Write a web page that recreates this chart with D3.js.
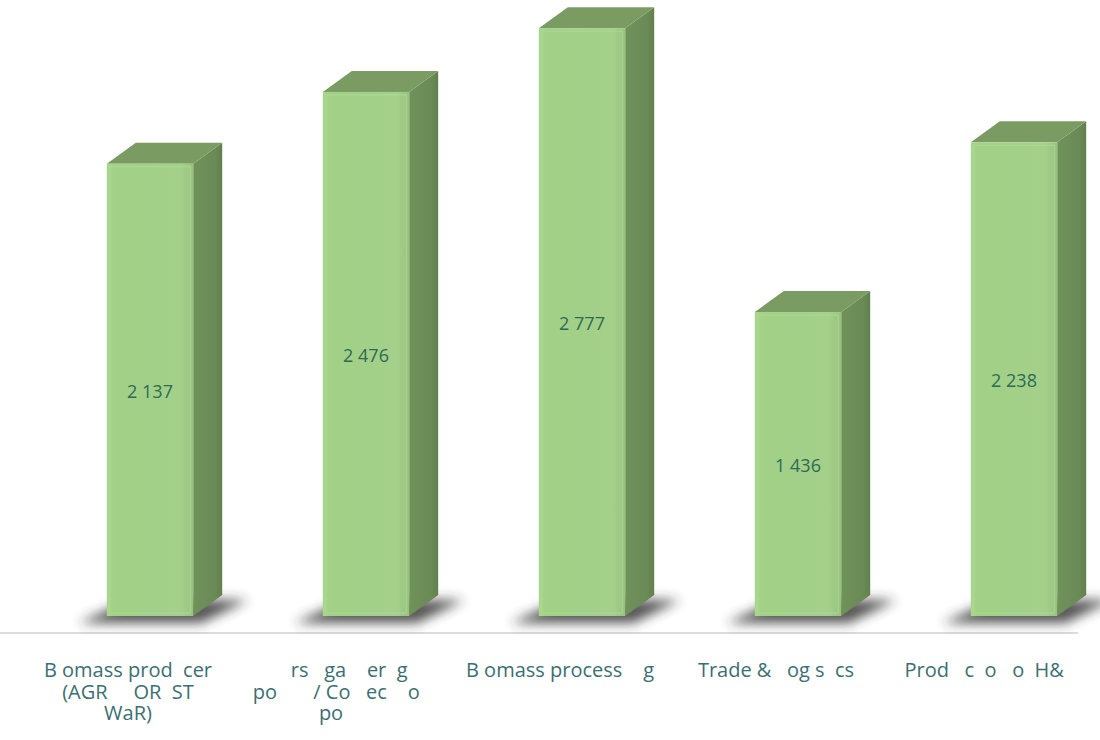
<!DOCTYPE html>
<html>
<head>
<meta charset="utf-8">
<script src="https://cdn.jsdelivr.net/npm/d3@7"></script>
<style>
  html, body { margin: 0; padding: 0; background: #ffffff; }
  svg { display: block; }
  text { white-space: pre; }
</style>
</head>
<body>
<script>
// Category labels, one array of lines per category (gaps kept as printed)
const categoryLines = [
  ["B omass prod  cer", "(AGR     OR  ST", "WaR)"],
  ["   rs   ga    er  g ", "po       / Co   ec    o   ", "po     "],
  ["B omass process    g"],
  ["Trade &   og s  cs"],
  ["Prod   c  o   o  H&   "]
];
const categories = ["c1", "c2", "c3", "c4", "c5"];
const values = [2137, 2476, 2777, 1436, 2238];
const yDomain = [0, 3000];

const W = 1100, H = 740;
const baseY = 616;          // floor line of the bars
const depthX = 29, depthY = -21;

const svg = d3.select("body").append("svg")
  .attr("width", W).attr("height", H);

const defs = svg.append("defs");
const blur = defs.append("filter").attr("id", "shadowBlur")
  .attr("x", "-30%").attr("y", "-80%").attr("width", "160%").attr("height", "260%");
blur.append("feGaussianBlur").attr("stdDeviation", 6);

const frontGrad = defs.append("linearGradient").attr("id", "frontGrad")
  .attr("x1", "0").attr("x2", "1").attr("y1", "0").attr("y2", "0");
[["0%", "#a8d88e"], ["8%", "#a1d086"], ["85%", "#a4d08a"], ["100%", "#98c37e"]]
  .forEach(([o, c]) => frontGrad.append("stop").attr("offset", o).attr("stop-color", c));

const sideGrad = defs.append("linearGradient").attr("id", "sideGrad")
  .attr("x1", "0").attr("x2", "1").attr("y1", "0").attr("y2", "0");
[["0%", "#6f915a"], ["75%", "#6a8b55"], ["100%", "#62804d"]]
  .forEach(([o, c]) => sideGrad.append("stop").attr("offset", o).attr("stop-color", c));

const x = d3.scaleBand().domain(categories).range([42, 1122]).paddingInner(0.6).paddingOuter(0.3);
const y = d3.scaleLinear().domain(yDomain).range([baseY, baseY - 635]);

const fmt = d3.formatLocale({ decimal: ",", thousands: " ", grouping: [3], currency: ["", ""] }).format(",");

// category axis line
svg.append("line")
  .attr("x1", 0).attr("x2", 1078)
  .attr("y1", 633).attr("y2", 633)
  .attr("stroke", "#dcdcdc").attr("stroke-width", 2);

const data = categories.map((c, i) => ({ c, v: values[i], lines: categoryLines[i] }));

// shadows on the floor
svg.append("g").selectAll("path").data(data).join("path")
  .attr("d", d => {
    const x0 = x(d.c), x1 = x0 + x.bandwidth();
    return `M${x0 - 28},${baseY + 7} L${x1 + 8},${baseY + 7} L${x1 + depthX + 26},${baseY - 16} L${x0 + depthX - 6},${baseY - 16} Z`;
  })
  .attr("fill", "#2b2b2b")
  .attr("opacity", 0.8)
  .attr("filter", "url(#shadowBlur)");

const bars = svg.append("g").selectAll("g").data(data).join("g");

// side face
bars.append("path")
  .attr("d", d => {
    const x1 = x(d.c) + x.bandwidth(), yt = y(d.v);
    return `M${x1},${baseY} L${x1},${yt} L${x1 + depthX},${yt + depthY} L${x1 + depthX},${baseY + depthY} Z`;
  })
  .attr("fill", "url(#sideGrad)");

// top face
bars.append("path")
  .attr("d", d => {
    const x0 = x(d.c), x1 = x0 + x.bandwidth(), yt = y(d.v);
    return `M${x0},${yt} L${x1},${yt} L${x1 + depthX},${yt + depthY} L${x0 + depthX},${yt + depthY} Z`;
  })
  .attr("fill", "#7a9c63");

// front face
bars.append("rect")
  .attr("x", d => x(d.c))
  .attr("y", d => y(d.v))
  .attr("width", x.bandwidth())
  .attr("height", d => baseY - y(d.v))
  .attr("fill", "url(#frontGrad)");

bars.append("rect")
  .attr("x", d => x(d.c) + 3)
  .attr("y", d => y(d.v) + 3)
  .attr("width", x.bandwidth() - 6)
  .attr("height", d => baseY - y(d.v) - 6)
  .attr("fill", "none")
  .attr("stroke", "#afdb98")
  .attr("stroke-width", 1.2)
  .attr("opacity", 0.7);

// value labels in the middle of the front face
bars.append("text")
  .attr("x", d => x(d.c) + x.bandwidth() / 2)
  .attr("y", d => (y(d.v) + baseY) / 2 + 8)
  .attr("text-anchor", "middle")
  .attr("font-family", "'Open Sans', sans-serif")
  .attr("font-size", 18)
  .attr("fill", "#2f6a55")
  .text(d => fmt(d.v));

// category labels
const labels = svg.append("g").selectAll("text").data(data).join("text")
  .attr("text-anchor", "middle")
  .attr("font-family", "'Open Sans', sans-serif")
  .attr("font-size", 20)
  .attr("fill", "#3b6f72");

labels.selectAll("tspan").data(d => d.lines.map(l => ({ l, cx: x(d.c) + x.bandwidth() / 2 - 22 })))
  .join("tspan")
  .attr("x", t => t.cx)
  .attr("y", (t, i) => 677 + i * 21.5)
  .text(t => t.l);
</script>
</body>
</html>
